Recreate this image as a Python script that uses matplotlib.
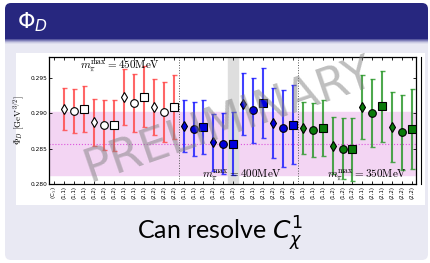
import matplotlib
matplotlib.use("Agg")
import matplotlib.pyplot as plt
from matplotlib.patches import FancyBboxPatch, Rectangle
import numpy as np

plt.rcParams["mathtext.fontset"] = "cm"

# Phi_D per (C_chi^1, C_chi^2) choice, three pion-mass cuts
groups = ["450", "400", "350"]
choices = ["(1,1)", "(1,1)", "(1,1)", "(1,2)", "(1,2)", "(1,2)",
           "(2,1)", "(2,1)", "(2,1)", "(2,2)", "(2,2)", "(2,2)"]
phi_450 = [0.2906, 0.2903, 0.2906, 0.2887, 0.2883, 0.2883,
           0.2923, 0.2914, 0.2923, 0.2909, 0.2902, 0.2908]
err_450 = [0.0030, 0.0031, 0.0032, 0.0033, 0.0035, 0.0036,
           0.0039, 0.0041, 0.0043, 0.0039, 0.0042, 0.0045]
phi_400 = [0.2882, 0.2878, 0.2881, 0.2859, 0.2857, 0.2857,
           0.2913, 0.2904, 0.2914, 0.2886, 0.2879, 0.2884]
err_400 = [0.0036, 0.0038, 0.0038, 0.0040, 0.0043, 0.0044,
           0.0043, 0.0046, 0.0049, 0.0049, 0.0054, 0.0056]
phi_350 = [0.2879, 0.2876, 0.2879, 0.2854, 0.2850, 0.2849,
           0.2908, 0.2900, 0.2910, 0.2881, 0.2873, 0.2878]
err_350 = [0.0037, 0.0038, 0.0039, 0.0040, 0.0043, 0.0044,
           0.0045, 0.0048, 0.0050, 0.0049, 0.0053, 0.0056]
final_val = 0.2857
final_err = 0.0044
markers = ["d", "o", "s"]

W, H = 431, 263
fig = plt.figure(figsize=(W / 100, H / 100), dpi=100)

# slide block background in pixel coords
bg = fig.add_axes([0, 0, 1, 1])
bg.set_xlim(0, W)
bg.set_ylim(H, 0)
bg.axis("off")
bg.add_patch(FancyBboxPatch((5, 42), 423, 218, boxstyle="round,pad=0,rounding_size=6",
                            fc="#e9e9f3", ec="none"))
bg.add_patch(Rectangle((5, 38), 423, 12, fc="#e9e9f3", ec="none"))
bg.add_patch(FancyBboxPatch((5, 3), 423, 36, boxstyle="round,pad=0,rounding_size=6",
                            fc="#27277f", ec="none"))
bg.add_patch(Rectangle((5, 28), 423, 11, fc="#27277f", ec="none"))
for i, c in enumerate(["#5a5aa0", "#8080b8", "#a8a8d0", "#cacae2", "#dddded"]):
    bg.add_patch(Rectangle((5, 39 + i), 423, 1, fc=c, ec="none"))
bg.add_patch(Rectangle((16, 53), 409, 152, fc="white", ec="none"))
bg.plot([421, 421], [57, 184], color="black", lw=0.8)
bg.text(17, 22, r"$\Phi_D$", color="white", fontsize=16, va="center",
        math_fontfamily="dejavusans")
bg.text(220, 234, r"Can resolve $C_\chi^1$", fontsize=18, ha="center", va="center",
        family="Lato", math_fontfamily="dejavusans")

# data axes
ax = fig.add_axes([49.5 / W, 1 - 184.3 / H, (416 - 49.5) / W, (184.3 - 57) / H])
ax.set_xlim(-0.5, 36.4)
ax.set_ylim(0.280, 0.2979)

ax.axhspan(final_val - final_err, final_val + final_err, color="#f3d5f3", zorder=0)
ax.axhline(final_val, color="#dd55dd", ls=":", lw=0.8, zorder=1)
ax.axvspan(17.5, 18.5, color="#dedede", zorder=1)
ax.axvline(12.5, color="#555555", ls=":", lw=0.7)
ax.axvline(24.5, color="#555555", ls=":", lw=0.7)

series = [(phi_450, err_450, "#ff4c4c", "white"),
          (phi_400, err_400, "#2020ff", "#0000dd"),
          (phi_350, err_350, "#2f9a2f", "#0a7a0a")]
for g, (vals, errs, ecol, fcol) in enumerate(series):
    for j in range(12):
        x = 1 + 12 * g + j
        m = markers[j % 3]
        ax.errorbar(x, vals[j], yerr=errs[j], fmt="none", ecolor=ecol, elinewidth=1.5,
                    capsize=1.8, capthick=1.0, alpha=0.85, zorder=2)
        ms = 5 if m == "d" else 5.5 if m == "o" else 6
        ax.plot(x, vals[j], marker=m, ms=ms, mfc=fcol, mec="black", mew=0.8,
                ls="none", zorder=3)

ax.text(2.6, 0.2963, r"$m_\pi^{\rm max}=450{\rm MeV}$", fontsize=8)
ax.text(14.9, 0.2810, r"$m_\pi^{\rm max}=400{\rm MeV}$", fontsize=8)
ax.text(27.4, 0.2810, r"$m_\pi^{\rm max}=350{\rm MeV}$", fontsize=8)

ax.set_xticks(range(37))
ax.set_xticklabels([r"(C$_\chi$)"] + choices * 3, rotation=90, fontsize=4)
ax.set_yticks([0.280, 0.285, 0.290, 0.295])
ax.set_yticklabels(["0.280", "0.285", "0.290", "0.295"], fontsize=4.2)
ax.tick_params(direction="in", length=2, width=0.6, top=True, right=True, pad=1.5)
ax.set_ylabel(r"$\Phi_D\ [{\rm GeV}^{3/2}]$", fontsize=6.5, labelpad=3)
for s in ax.spines.values():
    s.set_linewidth(0.9)

ax.text(0.49, 0.5, "PRELIMINARY", transform=ax.transAxes, fontsize=33,
        color="#808080", alpha=0.5, rotation=19, ha="center", va="center", zorder=5)

fig.savefig("out.png", dpi=100)
